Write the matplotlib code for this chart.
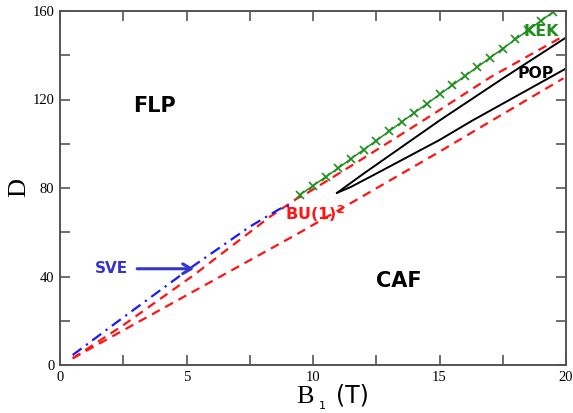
import matplotlib
matplotlib.use("Agg")
import matplotlib.pyplot as plt
from matplotlib.ticker import MultipleLocator

# phase boundary lines
sve_x = [0.5, 2.5, 5.3, 7.5, 8.6, 8.85, 9.1]
sve_y = [4.5, 21.5, 45.0, 62.5, 70.0, 71.5, 72.0]

red_up_x = [0.5, 2.5, 5.27, 8.3, 9.4, 9.6, 12.0, 14.7, 17.0, 19.8]
red_up_y = [3.0, 18.0, 40.5, 67.0, 75.5, 76.5, 93.5, 113.0, 130.0, 148.0]

red_lo_x = [0.5, 5.0, 9.5, 11.5, 15.0, 17.0, 19.9]
red_lo_y = [3.0, 31.5, 60.0, 73.2, 96.4, 110.0, 129.6]

kek_x = [9.5, 10.0, 10.5, 11.0, 11.5, 12.0, 12.5, 13.0, 13.5, 14.0, 14.5,
         15.0, 15.5, 16.0, 16.5, 17.0, 17.5, 18.0, 18.5, 19.0, 19.5]
kek_y = [77.0, 81.0, 85.0, 89.0, 93.2, 97.3, 101.4, 105.6, 109.8, 114.0, 118.0,
         122.3, 126.4, 130.6, 134.7, 138.9, 143.0, 147.2, 151.3, 155.5, 159.6]

pop_up_x = [10.95, 12.0, 13.0, 15.0, 17.5, 20.0]
pop_up_y = [77.8, 86.5, 94.5, 110.5, 129.5, 148.0]

pop_lo_x = [10.95, 11.5, 12.5, 15.0, 16.3, 20.0]
pop_lo_y = [77.8, 80.5, 86.5, 101.7, 110.5, 134.0]

RED = "#ff1414"
BLUE = "#1a1aff"
GREEN = "#1f8f1f"
SERIF = "Liberation Serif"

fig = plt.figure(figsize=(5.73, 4.13), dpi=100)
ax = fig.add_axes([60 / 573, 1 - 365 / 413, 506 / 573, 354 / 413])

ax.plot(red_lo_x, red_lo_y, color=RED, lw=1.6, ls=(0, (4, 2.8)))
ax.plot(red_up_x, red_up_y, color=RED, lw=1.6, ls=(0, (4, 2.8)))
ax.plot(sve_x, sve_y, color=BLUE, lw=1.6, ls=(0, (5, 2.5, 1, 2.5)))
ax.plot(pop_up_x, pop_up_y, color="black", lw=1.4)
ax.plot(pop_lo_x, pop_lo_y, color="black", lw=1.4)
ax.plot(kek_x, kek_y, color=GREEN, lw=1.1, marker="x", ms=6, mew=1.2)

ax.set_xlim(0, 20)
ax.set_ylim(0, 160)
ax.xaxis.set_major_locator(MultipleLocator(5))
ax.xaxis.set_minor_locator(MultipleLocator(2.5))
ax.yaxis.set_major_locator(MultipleLocator(40))
ax.yaxis.set_minor_locator(MultipleLocator(20))
ax.tick_params(which="both", direction="in", top=True, right=True,
               color="#555555", width=1.2, length=7)
ax.tick_params(axis="x", pad=4)
ax.tick_params(axis="y", pad=4)
for lab in ax.get_xticklabels() + ax.get_yticklabels():
    lab.set_fontfamily(SERIF)
    lab.set_fontsize(10.5)
for sp in ax.spines.values():
    sp.set_color("#555555")
    sp.set_linewidth(1.4)

# region labels
bold = dict(fontfamily="DejaVu Sans", fontweight="bold")
ax.text(3.73, 117, "FLP", fontsize=15, ha="center", va="center", color="black", **bold)
ax.text(13.38, 38, "CAF", fontsize=15, ha="center", va="center", color="black", **bold)
ax.text(2.04, 43.6, "SVE", fontsize=11, ha="center", va="center", color="#3535cc", **bold)
ax.text(19.0, 150.7, "KEK", fontsize=11.3, ha="center", va="center", color=GREEN, **bold)
ax.text(18.8, 131.8, "POP", fontsize=11.3, ha="center", va="center", color="black", **bold)
ax.text(8.9, 65.5, r"BU(1)$^\mathbf{2}$", fontsize=11.5, ha="left", va="baseline",
        color=RED, **bold)
ax.annotate("", xy=(5.3, 43.5), xytext=(3.05, 43.5),
            arrowprops=dict(arrowstyle="->,head_length=0.6,head_width=0.35",
                            color="#3535cc", lw=2.2, shrinkA=0, shrinkB=0))

# axis titles
fig.text(19 / 573, 1 - 187 / 413, "D", fontfamily=SERIF, fontsize=19,
         rotation=90, ha="center", va="center")
fig.text(305 / 573, 1 - 403 / 413, "B", fontfamily=SERIF, fontsize=19,
         ha="center", va="baseline")
fig.text(322 / 573, 1 - 401 / 413, "1", fontfamily="DejaVu Sans", fontsize=8,
         ha="center", va="top")
fig.text(352 / 573, 1 - 403 / 413, "(T)", fontfamily="DejaVu Sans", fontsize=17,
         ha="center", va="baseline")

fig.savefig("out.png", dpi=100)
